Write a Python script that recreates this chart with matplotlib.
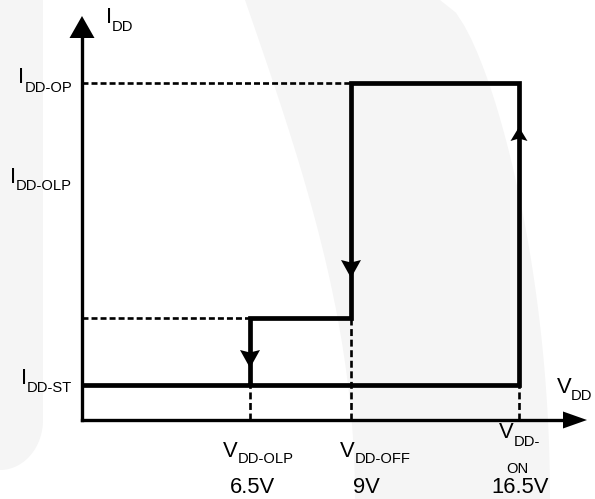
import numpy as np
import matplotlib
matplotlib.use("Agg")
import matplotlib.pyplot as plt
from matplotlib.patches import Polygon

# ---------------- data (schematic diagram units, origin at axes crossing) ----------------
vdd_values = ["6.5V", "9V", "16.5V"]                 # threshold voltages
vdd_names = ["DD-OLP", "DD-OFF", "DD-"]               # subscripts of V labels
vdd_x = [168, 269, 437]                               # schematic x of VDD-OLP, VDD-OFF, VDD-ON
idd_names = ["DD-OP", "DD-OLP", "DD-ST"]              # subscripts of I labels
idd_y = [337, 235, 35]                                # schematic level of IDD-OP, IDD-OLP, IDD-ST
mid_level = 102                                       # level reached between VDD-OLP and VDD-OFF

# hysteresis path: start at IDD-ST, rise at VDD-ON, fall at VDD-OFF, fall at VDD-OLP
path_x = [0, vdd_x[2], vdd_x[2], vdd_x[1], vdd_x[1], vdd_x[0], vdd_x[0]]
path_y = [idd_y[2], idd_y[2], idd_y[0], idd_y[0], mid_level, mid_level, idd_y[2]]

# ---------------- figure ----------------
W, H = 595, 499
OX, OY = 82, 420          # pixel position of the origin (from top-left)
fig = plt.figure(figsize=(W / 100, H / 100), dpi=100)
ax = fig.add_axes([0, 0, 1, 1])
ax.set_xlim(-OX, W - OX)
ax.set_ylim(-(H - OY), OY)
ax.axis("off")

def py(ypix):
    return OY - ypix

def px(xpix):
    return xpix - OX

# faint watermark background
wm = "#f5f5f5"
t = np.linspace(0, np.pi / 2, 30)
left_band = [(px(0), py(0)), (px(43), py(0))] + \
    [(px(43 * np.cos(a)), py(420 + 50 * np.sin(a))) for a in t]
ax.add_patch(Polygon(left_band, closed=True, fc=wm, ec="none", zorder=0))
s = np.linspace(0, 1, 40)
le_x = 245 + 110 * np.sin(s * np.pi / 2) ** 1.0
le_y = 499 * s
re_x = 440 + 110 * np.sin(s * np.pi / 2) ** 0.6
band = list(zip(px(le_x), py(le_y))) + list(zip(px(re_x[::-1]), py(le_y[::-1])))
ax.add_patch(Polygon(band, closed=True, fc=wm, ec="none", zorder=0))

plt.rcParams["lines.scale_dashes"] = False
K = "black"
AX_LW = 2.4
PATH_LW = 3.4
DASH_LW = 1.9

# axes
y_tip, y_len, y_hw = 404, 22, 12.5
x_tip, x_len, x_hw = 505, 24, 8.5
ax.plot([0, 0], [0, y_tip - y_len + 1], color=K, lw=AX_LW, solid_capstyle="projecting", zorder=3)
ax.plot([0, x_tip - x_len + 1], [0, 0], color=K, lw=AX_LW, solid_capstyle="projecting", zorder=3)
ax.add_patch(Polygon([(0, y_tip), (-y_hw, y_tip - y_len), (y_hw, y_tip - y_len)],
                     closed=True, fc=K, ec="none", zorder=4))
ax.add_patch(Polygon([(x_tip, 0), (x_tip - x_len, x_hw), (x_tip - x_len, -x_hw)],
                     closed=True, fc=K, ec="none", zorder=4))

# dashed guide lines
dash = (4.3, 2.2)
ax.plot([0, vdd_x[1]], [idd_y[0], idd_y[0]], color=K, lw=DASH_LW, dashes=dash, zorder=2)
ax.plot([0, vdd_x[0]], [mid_level, mid_level], color=K, lw=DASH_LW, dashes=dash, zorder=2)
vdash = (5.0, 2.6)
ax.plot([vdd_x[0], vdd_x[0]], [0, idd_y[2]], color=K, lw=DASH_LW, dashes=vdash, zorder=2)
ax.plot([vdd_x[1], vdd_x[1]], [0, mid_level], color=K, lw=DASH_LW, dashes=vdash, zorder=2)
ax.plot([vdd_x[2], vdd_x[2]], [0, idd_y[2]], color=K, lw=DASH_LW, dashes=vdash, zorder=2)

# hysteresis path
ax.plot(path_x, path_y, color=K, lw=PATH_LW, solid_joinstyle="miter",
        solid_capstyle="butt", zorder=3)

def flow_arrow(x, tip, direction, length, hw):
    base = tip - direction * length
    notch = base + direction * 2.5
    ax.add_patch(Polygon([(x, tip), (x - hw, base), (x, notch), (x + hw, base)],
                         closed=True, fc=K, ec="none", zorder=5))

flow_arrow(vdd_x[0], py(368), -1, 18, 10)
flow_arrow(vdd_x[1], py(278), -1, 18, 10)
flow_arrow(vdd_x[2], py(127), 1, 14, 8.5)

# ---------------- labels ----------------
FONT = ["Liberation Sans", "DejaVu Sans"]
MAIN = 15.8
SUB = 10.6
fig.canvas.draw()
renderer = fig.canvas.get_renderer()

def label(main, sub, x, base, sub_drop, ha="left"):
    tm = ax.text(x, base, main, fontsize=MAIN, family=FONT, ha="left", va="baseline", zorder=6)
    wm_ = tm.get_window_extent(renderer).width
    ts = ax.text(x + wm_, base - sub_drop, sub, fontsize=SUB, family=FONT,
                 ha="left", va="baseline", zorder=6)
    if ha == "right":
        ws = ts.get_window_extent(renderer).width
        shift = wm_ + ws
        tm.set_x(x - shift)
        ts.set_x(x - shift + wm_)
    return tm, ts

# current labels (right aligned at the left of the y axis)
label("I", idd_names[0], px(72), idd_y[0] - 0, 8.5, ha="right")
label("I", idd_names[1], px(72), py(183), 7.5, ha="right")
label("I", idd_names[2], px(72), py(383.5), 8.5, ha="right")
label("I", "DD", px(106), py(22.5), 8.0)

# voltage axis name
label("V", "DD", px(556.5), py(393), 7.5)

# threshold names
label("V", vdd_names[0], px(223), py(457), 6.0)
label("V", vdd_names[1], px(340), py(457), 6.0)
label("V", vdd_names[2], px(499), py(438.5), 7.5)
ax.text(px(517.5), py(473), "ON", fontsize=SUB, family=FONT, ha="center", va="baseline", zorder=6)

# threshold values
centers = [252.5, 366, 520]
for v, c in zip(vdd_values, centers):
    ax.text(px(c), py(493), v, fontsize=MAIN, family=FONT, ha="center", va="baseline", zorder=6)

fig.savefig("out.png", dpi=100)
